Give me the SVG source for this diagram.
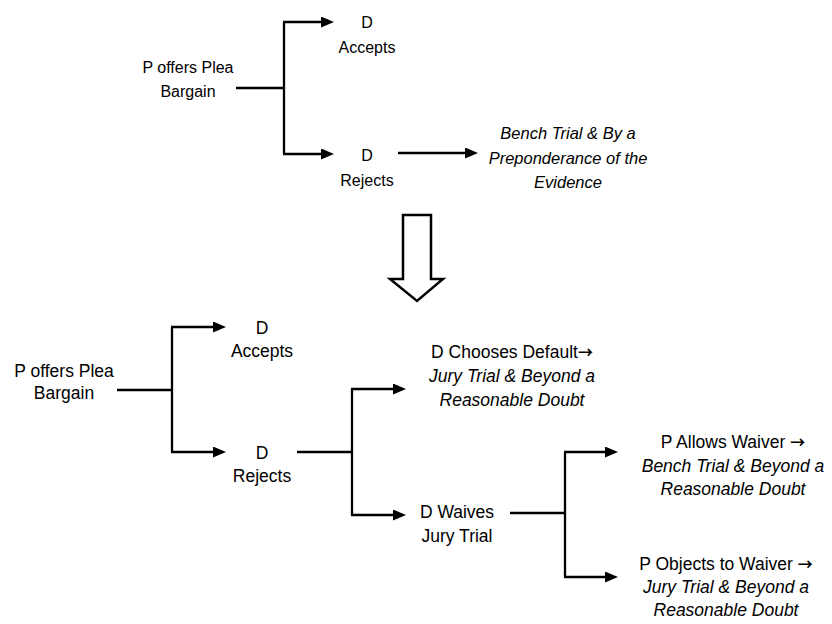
<svg xmlns="http://www.w3.org/2000/svg" width="832" height="624" viewBox="0 0 832 624">
<style>
text{font-family:"Liberation Sans",Arial,sans-serif;fill:#000;text-anchor:middle}
.t{font-size:16px}
.ti{font-size:16.5px;font-style:italic}
.b{font-size:17.5px}
.bi{font-size:17.5px;font-style:italic}
.ar{font-family:"Noto Sans CJK JP","DejaVu Sans",sans-serif;font-size:15px;font-weight:bold}
.c{fill:none;stroke:#000;stroke-width:2.3}
.a{marker-end:url(#ah)}
</style>
<defs>
<marker id="ah" markerUnits="userSpaceOnUse" markerWidth="13" markerHeight="11" refX="4" refY="5.5" orient="auto">
<path d="M0,0 L13,5.5 L0,11 z" fill="#000"/>
</marker>
</defs>
<rect width="832" height="624" fill="#fff"/>
<g id="connectors">
<path class="c" d="M236,88 H284"/>
<path class="c" d="M284,22 V154"/>
<path class="c a" d="M283,22 H325"/>
<path class="c a" d="M283,154 H325"/>
<path class="c a" d="M398,153 H469"/>
<path class="c" d="M117,390 H172"/>
<path class="c" d="M172,327 V452"/>
<path class="c a" d="M171,327 H217"/>
<path class="c a" d="M171,452 H217"/>
<path class="c" d="M297,452 H352"/>
<path class="c" d="M352,389 V515"/>
<path class="c a" d="M351,389 H397"/>
<path class="c a" d="M351,515 H397"/>
<path class="c" d="M510,513 H565"/>
<path class="c" d="M565,452 V577"/>
<path class="c a" d="M564,452 H609"/>
<path class="c a" d="M564,577 H609"/>
</g>
<g id="transition-arrow">
<polygon points="403,215 431,215 431,279 443,279 417,301 390,279 403,279" fill="#fff" stroke="#000" stroke-width="2.5" stroke-linejoin="miter"/>
</g>
<g id="top-offer"><text class="t" x="188" y="73">P offers Plea</text><text class="t" x="188" y="97">Bargain</text></g>
<g id="top-accepts"><text class="t" x="367" y="28">D</text><text class="t" x="367" y="53">Accepts</text></g>
<g id="top-rejects"><text class="t" x="367" y="161">D</text><text class="t" x="367" y="186">Rejects</text></g>
<g id="top-bench"><text class="ti" x="568" y="139">Bench Trial &amp; By a</text><text class="ti" x="568" y="164">Preponderance of the</text><text class="ti" x="568" y="188">Evidence</text></g>
<g id="bottom-offer"><text class="b" x="64" y="377">P offers Plea</text><text class="b" x="64" y="399">Bargain</text></g>
<g id="bottom-accepts"><text class="b" x="262" y="334">D</text><text class="b" x="262" y="357">Accepts</text></g>
<g id="bottom-rejects"><text class="b" x="262" y="459">D</text><text class="b" x="262" y="482">Rejects</text></g>
<g id="default"><text class="b" x="512" y="358">D Chooses Default<tspan class="ar">→</tspan></text><text class="bi" x="512" y="382">Jury Trial &amp; Beyond a</text><text class="bi" x="512" y="406">Reasonable Doubt</text></g>
<g id="waives"><text class="b" x="457" y="518">D Waives</text><text class="b" x="457" y="542">Jury Trial</text></g>
<g id="allows"><text class="b" x="733" y="448">P Allows Waiver <tspan class="ar">→</tspan></text><text class="bi" x="733" y="472">Bench Trial &amp; Beyond a</text><text class="bi" x="733" y="495">Reasonable Doubt</text></g>
<g id="objects"><text class="b" x="726" y="570">P Objects to Waiver <tspan class="ar">→</tspan></text><text class="bi" x="726" y="593">Jury Trial &amp; Beyond a</text><text class="bi" x="726" y="616">Reasonable Doubt</text></g>
</svg>
